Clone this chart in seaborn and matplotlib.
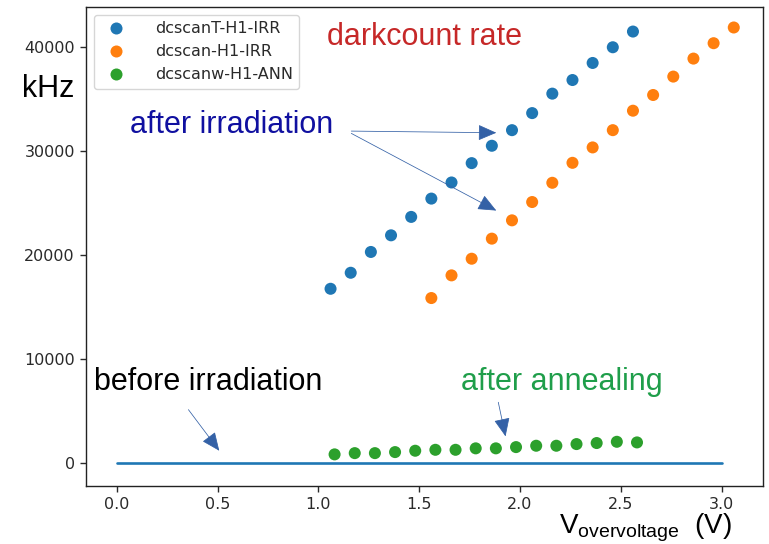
import matplotlib
matplotlib.use("Agg")
import matplotlib.pyplot as plt
import numpy as np
import pandas as pd
import seaborn as sns

# ---------------- data ----------------
series_names = ["dcscanT-H1-IRR", "dcscan-H1-IRR", "dcscanw-H1-ANN"]

x_T = [1.06, 1.16, 1.26, 1.36, 1.46, 1.56, 1.66, 1.76, 1.86, 1.96,
       2.06, 2.16, 2.26, 2.36, 2.46, 2.56]
y_T = [16760, 18300, 20300, 21900, 23670, 25430, 26980, 28840, 30510, 32010,
       33650, 35520, 36830, 38470, 39980, 41490]

x_IRR = [1.56, 1.66, 1.76, 1.86, 1.96, 2.06, 2.16, 2.26, 2.36, 2.46,
         2.56, 2.66, 2.76, 2.86, 2.96, 3.06]
y_IRR = [15870, 18050, 19650, 21580, 23340, 25100, 26950, 28870, 30350, 32010,
         33880, 35390, 37160, 38890, 40370, 41880]

x_ANN = [1.08, 1.18, 1.28, 1.38, 1.48, 1.58, 1.68, 1.78, 1.88, 1.98,
         2.08, 2.18, 2.28, 2.38, 2.48, 2.58]
y_ANN = [840, 960, 960, 1060, 1190, 1280, 1280, 1420, 1420, 1540,
         1670, 1670, 1830, 1930, 2050, 1990]

before_x = [0.0, 3.0]
before_y = [50, 50]

x_ticks = [0.0, 0.5, 1.0, 1.5, 2.0, 2.5, 3.0]
y_ticks = [0, 10000, 20000, 30000, 40000]

df = pd.concat([
    pd.DataFrame({"V": x_T, "rate": y_T, "series": series_names[0]}),
    pd.DataFrame({"V": x_IRR, "rate": y_IRR, "series": series_names[1]}),
    pd.DataFrame({"V": x_ANN, "rate": y_ANN, "series": series_names[2]}),
], ignore_index=True)
df_before = pd.DataFrame({"V": before_x, "rate": before_y})

# ---------------- style ----------------
sns.set_theme(style="ticks")
plt.rcParams["font.family"] = ["DejaVu Sans"]
plt.rcParams["mathtext.fontset"] = "custom"
plt.rcParams["mathtext.rm"] = "Liberation Sans"
plt.rcParams["mathtext.it"] = "Liberation Sans:italic"

W, H = 769, 544
fig = plt.figure(figsize=(W / 100, H / 100), dpi=100)
ax = fig.add_axes([86 / W, 1 - 486 / H, (763 - 86) / W, (486 - 7) / H])

palette = dict(zip(series_names, ["#1f77b4", "#ff7f0e", "#2ca02c"]))

sns.lineplot(data=df_before, x="V", y="rate", ax=ax, color="#1f77b4",
             linewidth=1.9, legend=False)
sns.scatterplot(data=df, x="V", y="rate", hue="series", palette=palette,
                hue_order=series_names, s=75, linewidth=0, ax=ax)

ax.set_xlim(-0.153, 3.205)
ax.set_ylim(-2200, 43850)
ax.set_xticks(x_ticks)
ax.set_xticklabels([f"{v:.1f}" for v in x_ticks])
ax.set_yticks(y_ticks)
ax.set_yticklabels([str(v) for v in y_ticks])
ax.set_xlabel("")
ax.set_ylabel("")
ax.tick_params(labelsize=11.5, length=4.5, width=1.0, colors="#2a2a2a")
for sp in ax.spines.values():
    sp.set_visible(True)
    sp.set_linewidth(1.0)
    sp.set_color("#222222")

leg = ax.legend(loc="upper left", fontsize=11.5, frameon=True,
                borderaxespad=0.5, handletextpad=1.4, labelspacing=0.5)
leg.get_frame().set_edgecolor("#cccccc")
for t in leg.get_texts():
    t.set_color("#2a2a2a")

# ---------------- annotations ----------------
tf = dict(family="Liberation Sans", fontsize=22)
ax.text(1.525, 40200, "darkcount rate", color="#c62828", ha="center",
        va="baseline", **tf)
ax.text(0.063, 31750, "after irradiation", color="#1010a0", ha="left",
        va="baseline", **tf)
ax.text(-0.115, 7010, "before irradiation", color="black", ha="left",
        va="baseline", **tf)
ax.text(1.707, 7010, "after annealing", color="#1f9e4a", ha="left",
        va="baseline", **tf)

arrow_kw = dict(arrowstyle="-|>,head_length=1.15,head_width=0.5",
                color="#3461a6", lw=0.55, shrinkA=0, shrinkB=0,
                mutation_scale=10)
ax.annotate("", xy=(1.882, 31760), xytext=(1.163, 31920), arrowprops=arrow_kw)
ax.annotate("", xy=(1.882, 24280), xytext=(1.163, 31700), arrowprops=arrow_kw)
ax.annotate("", xy=(0.508, 1190), xytext=(0.355, 5140), arrowprops=arrow_kw)
ax.annotate("", xy=(1.928, 2570), xytext=(1.892, 5850), arrowprops=arrow_kw)

fig.text(22 / W, 1 - 97 / H, "kHz", ha="left", va="baseline", color="black",
         **tf)
fig.text(645 / W, 1 - 534 / H, r"V$_{\mathrm{overvoltage}}$  (V)",
         ha="center", va="baseline", color="black",
         family="Liberation Sans", fontsize=20)

fig.savefig("out.png", dpi=100)
